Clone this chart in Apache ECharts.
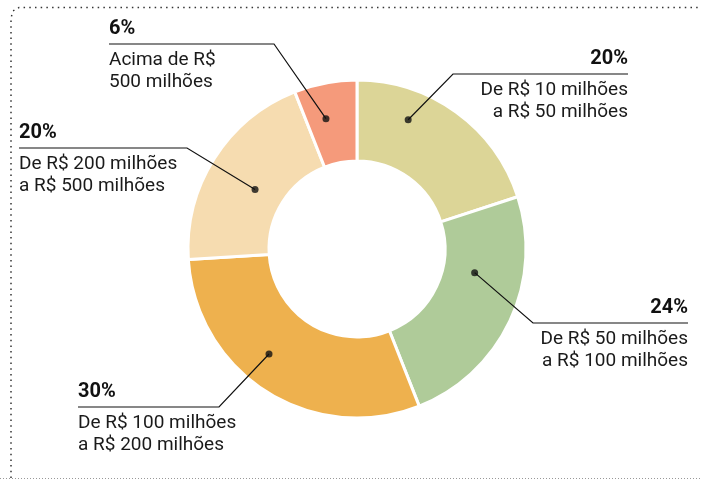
<!DOCTYPE html>
<html>
<head>
<meta charset="utf-8">
<script src="https://cdn.jsdelivr.net/npm/echarts@6/dist/echarts.min.js"></script>
<style>html,body{margin:0;background:#fff}#main{width:701px;height:480px}</style>
</head>
<body>
<div id="main"></div>
<script>
// faixas de receita e participação (%)
var faixas = [
  'De R$ 10 milhões\na R$ 50 milhões',
  'De R$ 50 milhões\na R$ 100 milhões',
  'De R$ 100 milhões\na R$ 200 milhões',
  'De R$ 200 milhões\na R$ 500 milhões',
  'Acima de R$\n500 milhões'
];
var percentuais = [20, 24, 30, 20, 6];
var cores = ['#DCD597', '#AFCB99', '#EEB14E', '#F6DCB0', '#F59A7B'];

// layout of the rosca
var centro = [357, 249];
var raioExt = 169, raioInt = 88;
// label spot: [fim da linha x, linha y, cotovelo x, alinhamento]
var rotulos = [
  [628, 74, 453, 'right'],
  [688, 323, 533, 'right'],
  [78, 407, 219, 'left'],
  [19, 148, 187, 'left'],
  [109, 44, 274, 'left']
];
// where the leader dot sits: fraction of the slice, radius px
var ancoras = [[0.30, 139], [0.34, 120], [0.57, 137], [0.47, 118], [0.38, 134]];

var total = percentuais.reduce(function (a, b) { return a + b; }, 0);
var acum = 0;
var pontos = percentuais.map(function (v, i) {
  var ang = (acum + v * ancoras[i][0]) / total * 100;
  acum += v;
  return [ancoras[i][1], ang];
});

function pontoPx(p) {
  var rad = p[1] / 100 * Math.PI * 2;
  return [centro[0] + p[0] * Math.sin(rad), centro[1] - p[0] * Math.cos(rad)];
}

var fatias = percentuais.map(function (v, i) {
  return { value: v, name: faixas[i], itemStyle: { color: cores[i] } };
});

var chart = echarts.init(document.getElementById('main'));
var option = {
  animation: false,
  textStyle: { fontFamily: 'Roboto' },
  polar: { center: centro, radius: raioExt },
  angleAxis: { type: 'value', min: 0, max: 100, startAngle: 90, clockwise: true, show: false },
  radiusAxis: { type: 'value', min: 0, max: raioExt, show: false },
  graphic: [
    {
      type: 'polyline',
      shape: { points: [[11, 478], [11, 18], [13, 11], [19, 7.5], [701, 7.5]] },
      style: { stroke: '#333', fill: null, lineWidth: 1.5, lineDash: [1.5, 4.2] },
      silent: true
    },
    {
      type: 'line',
      shape: { x1: 0, y1: 478.5, x2: 701, y2: 478.5 },
      style: { stroke: '#999', lineWidth: 1, lineDash: [1, 2] },
      silent: true
    }
  ],
  series: [
    {
      type: 'pie',
      center: centro,
      radius: [raioInt, raioExt],
      startAngle: 90,
      clockwise: true,
      silent: true,
      itemStyle: { borderColor: '#fff', borderWidth: 3 },
      label: { show: false },
      labelLine: { show: false },
      data: fatias
    },
    {
      // transparent copy on top, only carries the labels and leader lines
      type: 'pie',
      z: 4,
      center: centro,
      radius: [raioInt, raioExt],
      startAngle: 90,
      clockwise: true,
      silent: true,
      avoidLabelOverlap: false,
      itemStyle: { color: 'rgba(0,0,0,0)', borderWidth: 0 },
      data: percentuais.map(function (v, i) { return { value: v, name: faixas[i] }; }),
      label: {
        show: true,
        position: 'outside',
        color: '#1a1a1a',
        fontFamily: 'Roboto',
        formatter: function (p) {
          var l = faixas[p.dataIndex].split('\n');
          return '{p|' + p.value + '%}\n{g| }\n{t|' + l[0] + '}\n{t|' + l[1] + '}';
        },
        rich: {
          p: { fontSize: 20, fontWeight: 'bold', lineHeight: 26, color: '#111', fontFamily: 'Roboto' },
          g: { fontSize: 1, lineHeight: 7 },
          t: { fontSize: 19, lineHeight: 22, color: '#1a1a1a', fontFamily: 'Roboto' }
        }
      },
      labelLine: { show: true, smooth: false, lineStyle: { color: '#111', width: 1.2 } },
      labelLayout: function (params) {
        var i = params.dataIndex;
        var s = rotulos[i];
        return {
          x: s[0],
          y: s[1] - 28,
          align: s[3],
          verticalAlign: 'top',
          labelLinePoints: [pontoPx(pontos[i]), [s[2], s[1]], [s[0], s[1]]]
        };
      }
    },
    {
      type: 'scatter',
      coordinateSystem: 'polar',
      silent: true,
      z: 5,
      symbolSize: 7,
      itemStyle: { color: '#111' },
      data: pontos
    }
  ]
};
chart.setOption(option);
</script>
</body>
</html>
